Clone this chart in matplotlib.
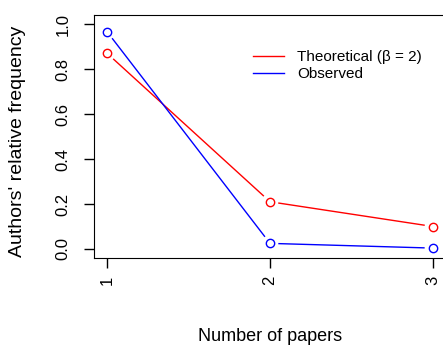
import matplotlib
matplotlib.use("Agg")
import matplotlib.pyplot as plt
import numpy as np

plt.rcParams['font.family'] = ['Liberation Sans', 'DejaVu Sans']

papers = [1, 2, 3]
theoretical = [0.87, 0.21, 0.10]
observed = [0.966, 0.025, 0.004]
yticks = [0.0, 0.2, 0.4, 0.6, 0.8, 1.0]


def plot_b(ax, x, y, color, label, gap=9):
    # R style type="b": points with gapped connecting lines
    pts = ax.transData.transform(np.column_stack([x, y]))
    inv = ax.transData.inverted()
    for p0, p1 in zip(pts[:-1], pts[1:]):
        d = p1 - p0
        n = np.hypot(*d)
        if n <= 2 * gap:
            continue
        u = d / n
        seg = inv.transform(np.array([p0 + u * gap, p1 - u * gap]))
        ax.plot(seg[:, 0], seg[:, 1], color=color, lw=1)
    ax.plot(x, y, 'o', mfc='none', mec=color, ms=6, mew=1)
    ax.plot([], [], color=color, lw=1, label=label)


fig = plt.figure(figsize=(4.43, 3.47), dpi=100)
ax = fig.add_axes([94 / 443, 89 / 347, 352 / 443, 243 / 347])
ax.set_xlim(0.92, 3.08)
ax.set_ylim(-0.04, 1.04)
ax.spines['right'].set_visible(False)

plot_b(ax, papers, theoretical, 'red', 'Theoretical (β = 2)')
plot_b(ax, papers, observed, 'blue', 'Observed')

ax.set_xticks(papers)
ax.set_xticklabels([str(p) for p in papers], rotation=90)
ax.set_yticks(yticks)
ax.set_yticklabels([f"{t:.1f}" for t in yticks], rotation=90, va='center')
ax.tick_params(axis='both', length=7, width=1, labelsize=12)
ax.tick_params(axis='y', pad=10)
ax.tick_params(axis='x', pad=6)

ax.set_xlabel('Number of papers', fontsize=13)
ax.set_ylabel("Authors' relative frequency", fontsize=14)
ax.xaxis.set_label_coords(0.5, -0.325)
ax.xaxis.label.set_verticalalignment('center')
ax.yaxis.set_label_coords(-0.216, 0.48)
ax.yaxis.label.set_verticalalignment('center')

ax.legend(loc='upper left', bbox_to_anchor=(253 / 443, 1 - 50 / 347),
          bbox_transform=fig.transFigure, frameon=False, fontsize=11,
          handlelength=2.0, handletextpad=0.9, labelspacing=0.2,
          borderpad=0, borderaxespad=0)

fig.savefig('out.png', dpi=100)
